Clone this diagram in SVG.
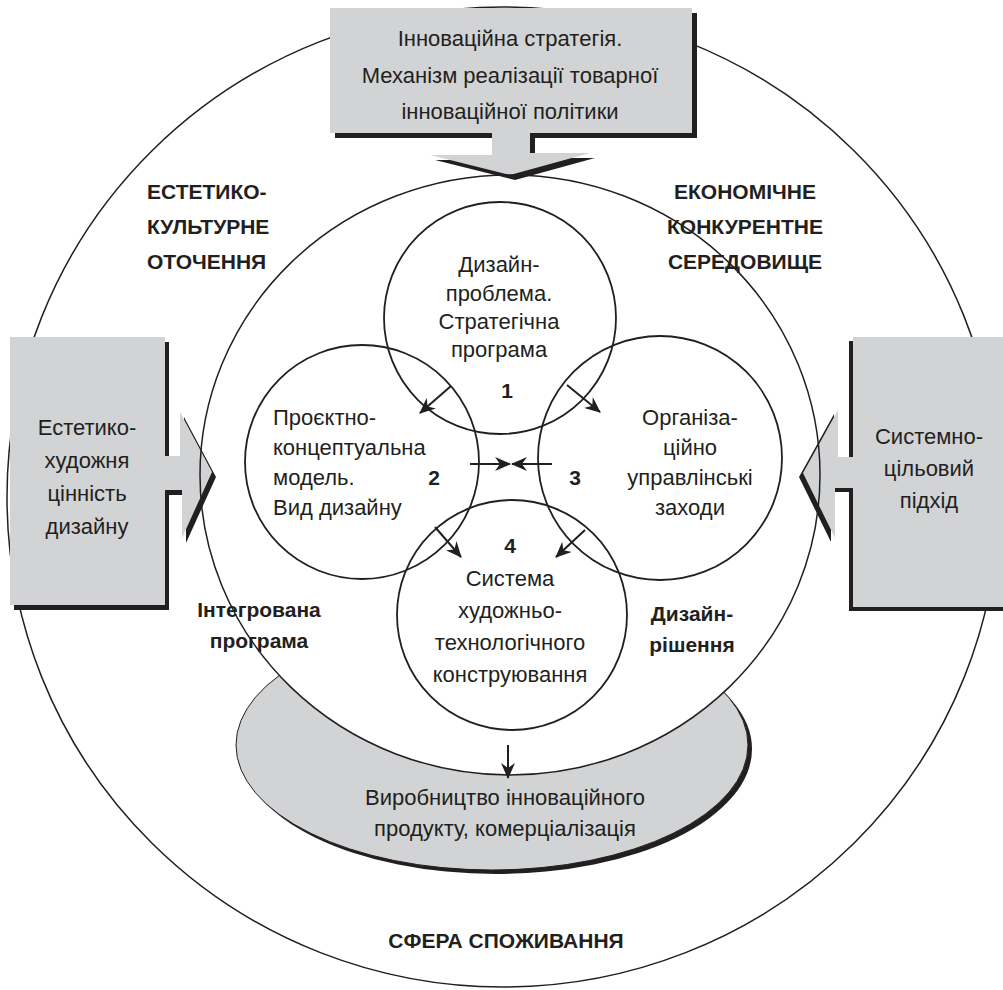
<svg xmlns="http://www.w3.org/2000/svg" width="1003" height="990" viewBox="0 0 1003 990">
<style>
.t{font-family:"Liberation Sans",Arial,sans-serif;font-size:22px;fill:#231f20}
.b{font-weight:bold;font-size:21px}
.c{text-anchor:middle}
.ln{fill:none;stroke:#231f20;stroke-width:1.8}
.thin{stroke:#231f20;stroke-width:1.5}
.nf{fill:none}
.wf{fill:#ffffff}
.g{fill:#d1d3d4}
.sh{fill:#231f20}
.con{fill:none;stroke:#231f20;stroke-width:2;marker-end:url(#arr)}
</style>
<defs>
<marker id="arr" viewBox="0 0 16 14" refX="15" refY="7" markerWidth="16" markerHeight="14" markerUnits="userSpaceOnUse" orient="auto">
<path d="M0,0 L16,7 L0,14 L5,7 Z" fill="#231f20"/>
</marker>
</defs>

<g id="outer-circle">
<ellipse cx="503" cy="497" rx="496" ry="490" class="thin wf"/>
</g>

<g id="production">
<ellipse cx="496" cy="749" rx="256" ry="125" class="sh"/>
<ellipse cx="492" cy="745" rx="256" ry="125" class="g" stroke="#231f20" stroke-width="1"/>
</g>

<g id="inner-circle-fill">
<ellipse cx="510" cy="475" rx="310" ry="300" class="wf"/>
</g>

<g id="top-box">
<path class="sh" transform="translate(5,5)" d="M330,8 H692 V133 H530 V153 L590,153 L510,175 L430,155 L492,155 V133 H330 Z"/>
<path class="g" d="M330,8 H692 V133 H530 V153 L590,153 L510,175 L430,155 L492,155 V133 H330 Z"/>
</g>

<g id="left-box">
<path class="sh" transform="translate(4,5)" d="M10,337 H165 V456 H180 V412 L212,472 L182,538 V490 H165 V605 H10 Z"/>
<path class="g" d="M10,337 H165 V456 H180 V412 L212,472 L182,538 V490 H165 V605 H10 Z"/>
</g>

<g id="right-box">
<path class="sh" transform="translate(-4,4)" d="M1010,337 H853 V457 H838 V410 L803,473 L835,538 V488 H853 V607 H1010 Z"/>
<path class="g" d="M1010,337 H853 V457 H838 V410 L803,473 L835,538 V488 H853 V607 H1010 Z"/>
</g>

<g id="inner-circle">
<ellipse cx="510" cy="475" rx="310" ry="300" class="thin nf"/>
</g>

<g id="circle-1"><circle cx="500" cy="318" r="116" class="ln"/></g>
<g id="circle-2"><circle cx="362" cy="462" r="117" class="ln"/></g>
<g id="circle-3"><circle cx="660" cy="458" r="122" class="ln"/></g>
<g id="circle-4"><circle cx="512" cy="615" r="115" class="ln"/></g>

<g id="connectors">
<path class="con" d="M451,386 L420,413"/>
<path class="con" d="M567,385 L600,412"/>
<path class="con" d="M470,464 L510,464"/>
<path class="con" d="M552,464 L512,464"/>
<path class="con" d="M435,527 L461,557"/>
<path class="con" d="M585,530 L556,557"/>
<path class="con" d="M508,745 L508,778"/>
</g>

<g id="texts">
<text class="t c" x="510" y="46">Інноваційна стратегія.</text>
<text class="t c" x="510" y="83">Механізм реалізації товарної</text>
<text class="t c" x="510" y="119">інноваційної політики</text>

<text class="t b" x="147" y="199">ЕСТЕТИКО-</text>
<text class="t b" x="147" y="234">КУЛЬТУРНЕ</text>
<text class="t b" x="147" y="269">ОТОЧЕННЯ</text>

<text class="t b c" x="745" y="199">ЕКОНОМІЧНЕ</text>
<text class="t b c" x="745" y="234">КОНКУРЕНТНЕ</text>
<text class="t b c" x="745" y="269">СЕРЕДОВИЩЕ</text>

<text class="t c" x="499" y="272">Дизайн-</text>
<text class="t c" x="499" y="301">проблема.</text>
<text class="t c" x="499" y="329">Стратегічна</text>
<text class="t c" x="499" y="357">програма</text>
<text class="t b c" x="507" y="398">1</text>

<text class="t" x="273" y="425">Проєктно-</text>
<text class="t" x="273" y="455">концептуальна</text>
<text class="t" x="273" y="485">модель.</text>
<text class="t" x="273" y="515">Вид дизайну</text>
<text class="t b c" x="434" y="485">2</text>

<text class="t c" x="690" y="425">Організа-</text>
<text class="t c" x="690" y="455">ційно</text>
<text class="t c" x="690" y="485">управлінські</text>
<text class="t c" x="690" y="515">заходи</text>
<text class="t b c" x="575" y="485">3</text>

<text class="t b c" x="510" y="553">4</text>
<text class="t c" x="510" y="586">Система</text>
<text class="t c" x="510" y="618">художньо-</text>
<text class="t c" x="510" y="650">технологічного</text>
<text class="t c" x="510" y="682">конструювання</text>

<text class="t b c" x="259" y="617">Інтегрована</text>
<text class="t b c" x="259" y="648">програма</text>

<text class="t b c" x="692" y="621">Дизайн-</text>
<text class="t b c" x="692" y="652">рішення</text>

<text class="t c" x="505" y="805">Виробництво інноваційного</text>
<text class="t c" x="505" y="836">продукту, комерціалізація</text>

<text class="t b c" x="506" y="948">СФЕРА СПОЖИВАННЯ</text>

<text class="t c" x="87" y="435">Естетико-</text>
<text class="t c" x="87" y="468">художня</text>
<text class="t c" x="87" y="501">цінність</text>
<text class="t c" x="87" y="534">дизайну</text>

<text class="t c" x="929" y="444">Системно-</text>
<text class="t c" x="929" y="476">цільовий</text>
<text class="t c" x="929" y="508">підхід</text>
</g>
</svg>
